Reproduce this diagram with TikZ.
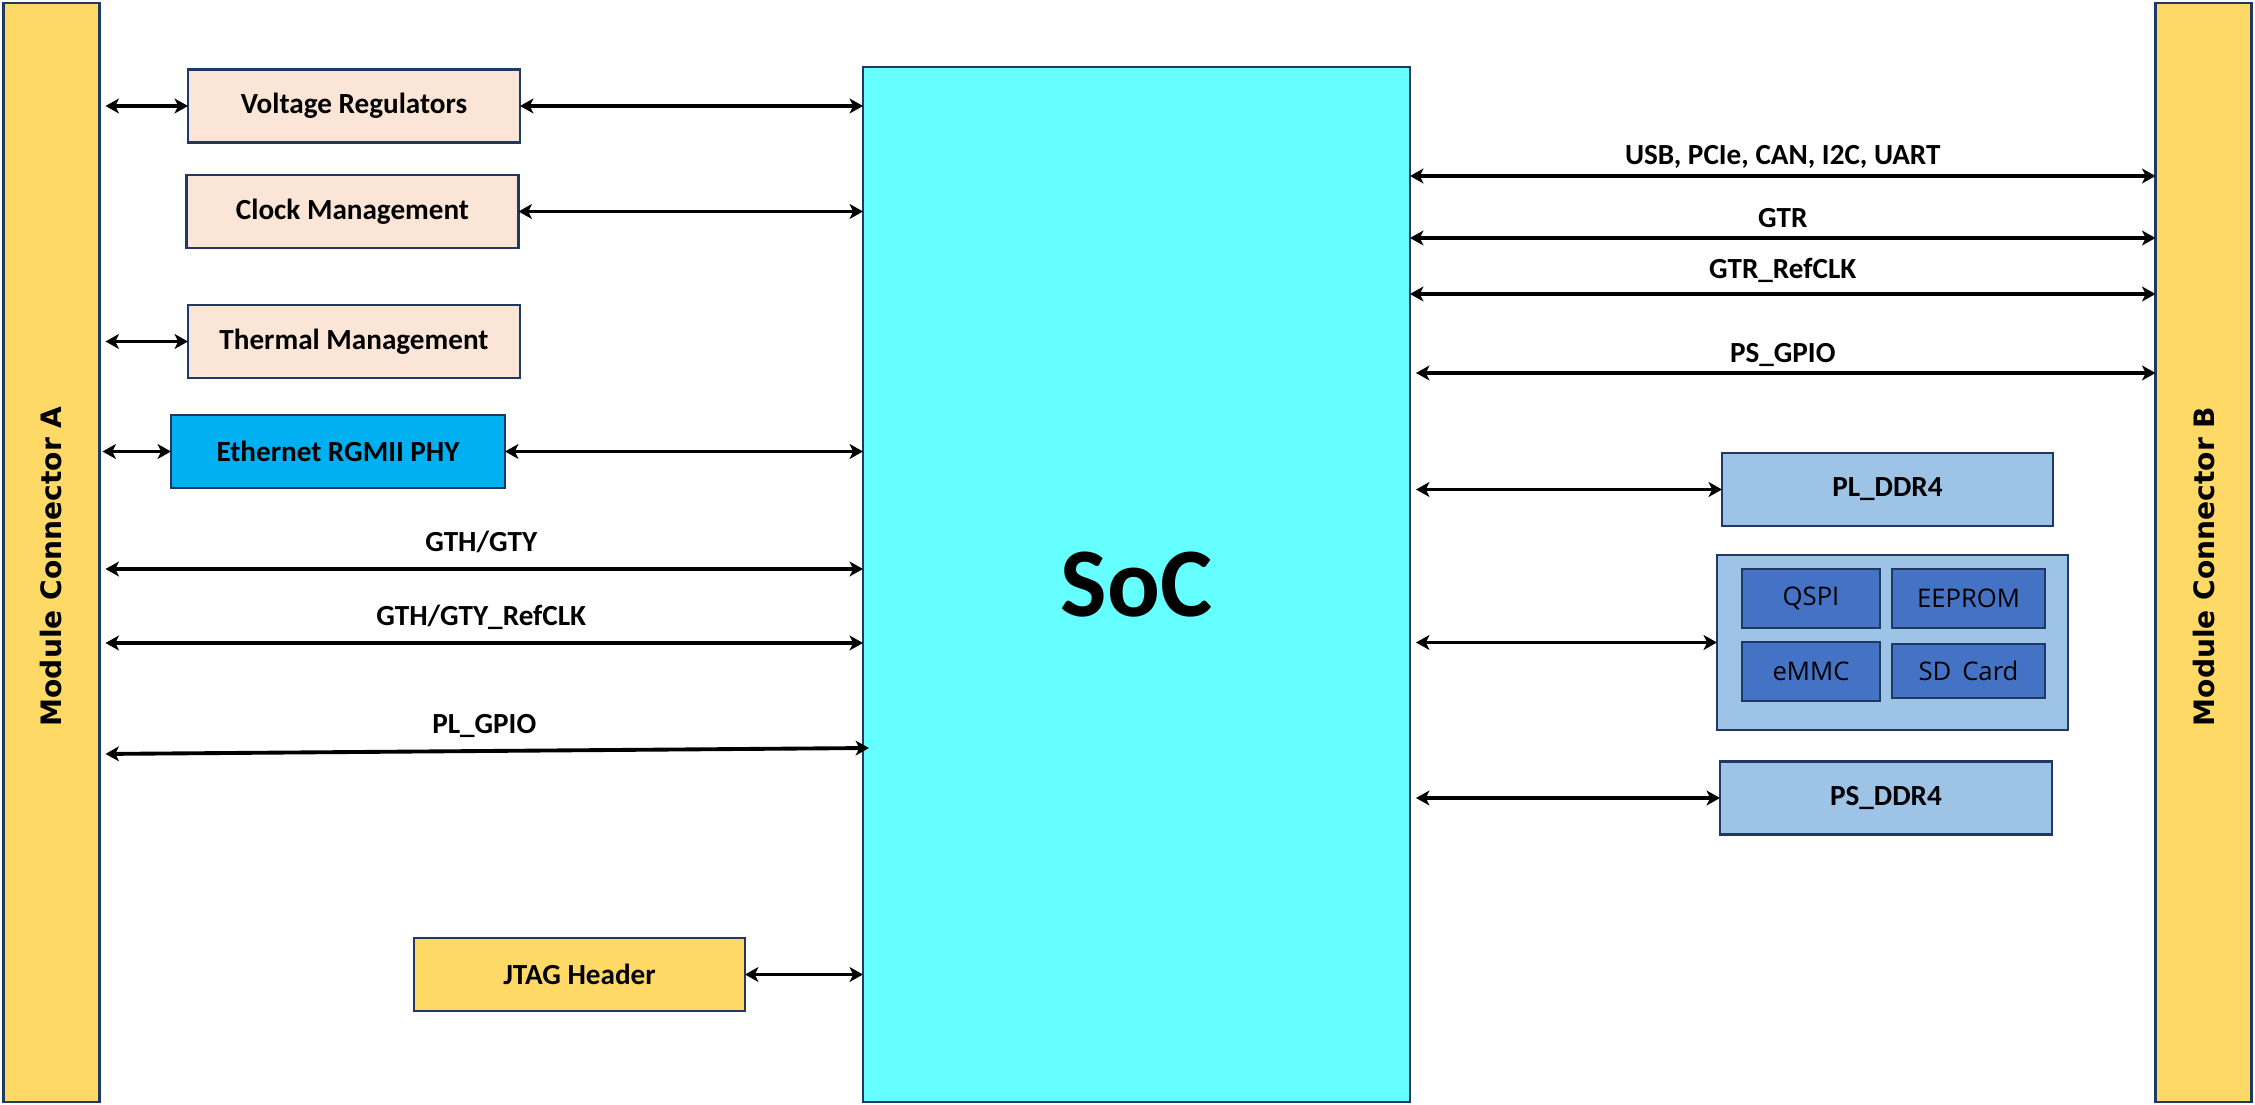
\documentclass[tikz,border=0pt]{standalone}
\usepackage{graphicx}
\usepackage{fontspec}
\setmainfont{Carlito}
\newfontfamily\connfont{DejaVu Sans}
\newfontfamily\chipfont{Open Sans}
\usetikzlibrary{arrows.meta}
\definecolor{edgeblue}{HTML}{1F3864}
\definecolor{connyellow}{HTML}{FFD966}
\definecolor{socfill}{HTML}{66FFFF}
\definecolor{peach}{HTML}{FBE5D6}
\definecolor{ethblue}{HTML}{00B0F0}
\definecolor{memblue}{HTML}{9DC3E6}
\definecolor{chipblue}{HTML}{4472C4}

\begin{document}
\begin{tikzpicture}[x=0.1mm,y=-0.1mm,
	box/.style={draw=edgeblue,line width=0.7pt,inner sep=0pt,outer sep=0pt,
		font=\fontsize{8.3}{10}\selectfont\bfseries},
	unit/.style={box,minimum width=33.2mm,minimum height=7.3mm},
	conn/.style={box,fill=connyellow,minimum width=9.6mm,minimum height=109.9mm,
		font=\connfont\fontsize{8}{10}\selectfont\bfseries},
	chip/.style={box,fill=chipblue,minimum height=5.9mm,
		font=\chipfont\fontsize{7.3}{8}\selectfont},
	link/.style={{Stealth[length=3.8pt,width=4.2pt,inset=1pt]}-{Stealth[length=3.8pt,width=4.2pt,inset=1pt]},
		line width=1.1pt},
	lbl/.style={midway,above=#1,inner sep=0pt,text depth=0pt,
		font=\fontsize{8.3}{10}\selectfont\bfseries},
	lbl/.default=3pt]
	\useasboundingbox (0,0) rectangle (2255,1105);

	\node[conn] (conA) at (51.5,552.5) {\rotatebox{90}{Module Connector A\hspace*{2.8mm}}};
	\node[conn] (conB) at (2203.5,552.5) {\rotatebox{90}{Module Connector B\hspace*{2.8mm}}};
	\node[box,fill=socfill,minimum width=54.7mm,minimum height=103.5mm,
		font=\fontsize{28}{30}\selectfont\bfseries] (soc) at (1136.5,584.5) {SoC};

	\node[unit,fill=peach] (vreg) at (354,106) {Voltage Regulators};
	\node[unit,fill=peach] (clk) at (352.5,211.5) {Clock Management};
	\node[unit,fill=peach] (therm) at (354,341.5) {Thermal Management};
	\node[unit,fill=ethblue,minimum width=33.4mm] (eth) at (338,451.5) {Ethernet RGMII PHY};
	\node[unit,fill=connyellow,minimum width=33.1mm] (jtag) at (579.5,974.5) {JTAG Header};

	\node[unit,fill=memblue,minimum width=33.1mm] (plddr) at (1887.5,489.5) {PL\_DDR4};
	\node[box,fill=memblue,minimum width=35.1mm,minimum height=17.5mm] (mem) at (1892.5,642.5) {};
	\node[chip,minimum width=13.8mm] (qspi) at (1811,598.5) {QSPI};
	\node[chip,minimum width=15.3mm] (eeprom) at (1968.5,598.5) {EEPROM};
	\node[chip,minimum width=13.8mm] (emmc) at (1811,671.5) {eMMC};
	\node[chip,minimum width=15.3mm,minimum height=5.4mm] (sdcard) at (1968.5,671) {\raisebox{-2pt}{SD\ \,Card}};
	\node[unit,fill=memblue] (psddr) at (1886,798) {PS\_DDR4};

	\coordinate (gth) at (0,569);
	\coordinate (gthclk) at (0,643);
	\coordinate (plA) at (0,754);
	\coordinate (plB) at (0,748);
	\coordinate (usb) at (0,176);
	\coordinate (gtr) at (0,238);
	\coordinate (gtrclk) at (0,294);
	\coordinate (psgpio) at (0,373);

	\draw[link,shorten <=0.6mm] (conA.east |- vreg.west) -- (vreg.west);
	\draw[link] (vreg.east) -- (soc.west |- vreg.east);
	\draw[link] (clk.east) -- (soc.west |- clk.east);
	\draw[link,shorten <=0.6mm] (conA.east |- therm.west) -- (therm.west);
	\draw[link,shorten <=0.3mm] (conA.east |- eth.west) -- (eth.west);
	\draw[link] (eth.east) -- (soc.west |- eth.east);
	\draw[link,shorten <=0.6mm] (conA.east |- gth) -- (soc.west |- gth) node[lbl=4.5pt] {GTH/GTY};
	\draw[link,shorten <=0.6mm] (conA.east |- gthclk) -- (soc.west |- gthclk) node[lbl=4.3pt] {GTH/GTY\_RefCLK};
	\draw[link,shorten <=0.6mm] (conA.east |- plA) -- ([xshift=0.6mm]soc.west |- plB) node[lbl=4.5pt] {PL\_GPIO};
	\draw[link] (jtag.east) -- (soc.west |- jtag.east);

	\draw[link] (soc.east |- usb) -- (conB.west |- usb) node[lbl=2.8pt] {USB, PCIe, CAN, I2C, UART};
	\draw[link] (soc.east |- gtr) -- (conB.west |- gtr) node[lbl=2.3pt] {GTR};
	\draw[link] (soc.east |- gtrclk) -- (conB.west |- gtrclk) node[lbl=3.8pt] {GTR\_RefCLK};
	\draw[link,shorten <=0.6mm] (soc.east |- psgpio) -- (conB.west |- psgpio) node[lbl=2.5pt] {PS\_GPIO};
	\draw[link,shorten <=0.6mm] (soc.east |- plddr.west) -- (plddr.west);
	\draw[link,shorten <=0.6mm] (soc.east |- mem.west) -- (mem.west);
	\draw[link,shorten <=0.6mm] (soc.east |- psddr.west) -- (psddr.west);
\end{tikzpicture}
\end{document}
